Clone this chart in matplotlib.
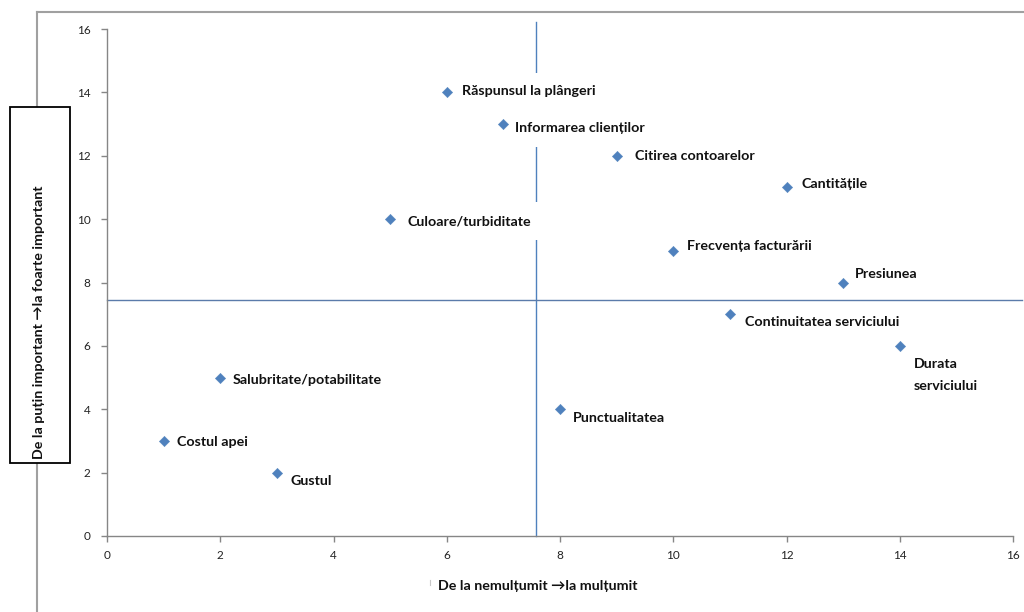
import matplotlib
matplotlib.use("Agg")
import matplotlib.pyplot as plt
from matplotlib.patches import Rectangle
from matplotlib.lines import Line2D

plt.rcParams['font.family'] = ['Lato', 'DejaVu Sans']

# Satisfaction (x) vs. importance (y) for each service attribute
labels = [
    "Răspunsul la plângeri", "Informarea clienților", "Citirea contoarelor",
    "Cantitățile", "Culoare/turbiditate", "Frecvența facturării", "Presiunea",
    "Continuitatea serviciului", "Durata\nserviciului", "Salubritate/potabilitate",
    "Punctualitatea", "Costul apei", "Gustul",
]
satisfaction = [6, 7, 9, 12, 5, 10, 13, 11, 14, 2, 8, 1, 3]
importance = [14, 13, 12, 11, 10, 9, 8, 7, 6, 5, 4, 3, 2]

# Quadrant divider positions
x_split = 7.58
y_split = 7.46

x_ticks = [0, 2, 4, 6, 8, 10, 12, 14, 16]
y_ticks = [0, 2, 4, 6, 8, 10, 12, 14, 16]

# Label offsets from their marker, in pixels (right, up)
label_offsets = [(15, 1), (12, -4), (18, 0), (15, 3), (17, -2), (14, 5), (12, 9),
                 (15, -8), (14, -29), (12, -2), (13, -9), (13, -1), (14, -8)]

W, H = 1024, 612
fig = plt.figure(figsize=(W / 100, H / 100), dpi=100)
ax = fig.add_axes([107 / W, 1 - 536 / H, (1013 - 107) / W, (536 - 29) / H])

blue = "#4F81BD"
grey = "#868686"
label_size = 10.3

ax.set_xlim(0, 16)
ax.set_ylim(0, 16)
ax.set_xticks(x_ticks)
ax.set_yticks(y_ticks)
for s in ("top", "right"):
    ax.spines[s].set_visible(False)
for s in ("left", "bottom"):
    ax.spines[s].set_color(grey)
    ax.spines[s].set_linewidth(1.0)
ax.tick_params(direction="out", length=4, width=1, color=grey,
               labelsize=8.5, labelcolor="#222222")
ax.tick_params(axis="x", pad=6)
ax.tick_params(axis="y", pad=8)

# Quadrant lines
ax.plot([x_split, x_split], [0, 16.22], color=blue, lw=1.0, zorder=1, clip_on=False)
ax.plot([0, 16.16], [y_split, y_split], color="#5B7BAA", lw=1.0, zorder=1, clip_on=False)

ax.scatter(satisfaction, importance, marker="D", s=28, color=blue,
           edgecolors=blue, linewidths=0.3, zorder=5, clip_on=False)

for lab, xv, yv, (dx, dy) in zip(labels, satisfaction, importance, label_offsets):
    ax.annotate(lab, (xv, yv), xytext=(dx, dy), textcoords="offset pixels",
                ha="left", va="center", fontsize=label_size, fontweight="bold",
                color="#111111", linespacing=2.0, zorder=3,
                bbox=dict(boxstyle="square,pad=0.9", fc="white", ec="none"))

# Outer chart frame lines
fig.add_artist(Line2D([37 / W, 37 / W], [0, 1 - 12 / H], transform=fig.transFigure,
                      color="#A0A0A0", lw=1.5))
fig.add_artist(Line2D([37 / W, 1.0], [1 - 12 / H, 1 - 12 / H], transform=fig.transFigure,
                      color="#A0A0A0", lw=1.5))

# Boxed y-axis title
fig.add_artist(Rectangle((10 / W, 1 - 463 / H), 60 / W, 356 / H, transform=fig.transFigure,
                         fc="white", ec="black", lw=1.3, zorder=3))
fig.text(39 / W, 1 - 322 / H, "De la puțin important →la foarte important", rotation=90,
         ha="center", va="center", fontsize=label_size, fontweight="bold", color="#111111",
         zorder=4)

# x-axis title
fig.text(538 / W, 1 - 586 / H, "De la nemulțumit →la mulțumit", ha="center", va="center",
         fontsize=label_size, fontweight="bold", color="#111111")
fig.add_artist(Line2D([430 / W, 430 / W], [1 - 585 / H, 1 - 580 / H], transform=fig.transFigure,
                      color="#C8C8C8", lw=0.8))

fig.savefig("out.png", dpi=100, facecolor="white")
